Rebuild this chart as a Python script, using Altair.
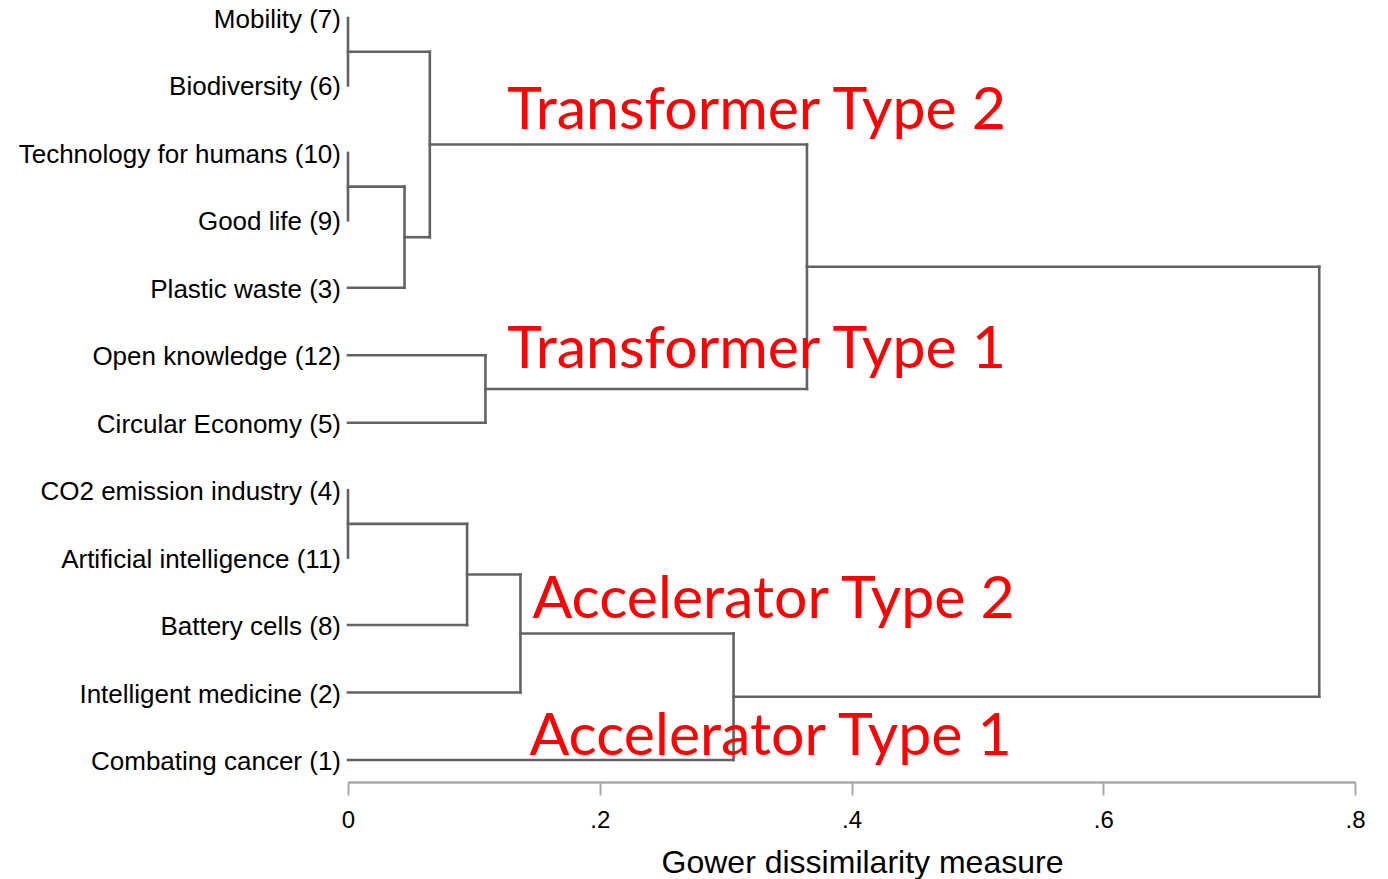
import json
import altair as alt
import pandas as pd

# ---- data ----
LEAVES = [
    "Mobility (7)", "Biodiversity (6)", "Technology for humans (10)", "Good life (9)",
    "Plastic waste (3)", "Open knowledge (12)", "Circular Economy (5)",
    "CO2 emission industry (4)", "Artificial intelligence (11)", "Battery cells (8)",
    "Intelligent medicine (2)", "Combating cancer (1)",
]
# merges: (left node, right node, Gower dissimilarity); new nodes numbered from 12
MERGE_LEFT = [0, 2, 13, 12, 5, 15, 7, 18, 19, 20, 17]
MERGE_RIGHT = [1, 3, 4, 14, 6, 16, 8, 9, 10, 11, 21]
MERGE_HEIGHT = [0.0, 0.0, 0.0449, 0.0650, 0.1092, 0.3646, 0.0, 0.0946, 0.1370, 0.3063, 0.7716]

TICK_VALUES = [0, 0.2, 0.4, 0.6, 0.8]
TICK_LABELS = ["0", ".2", ".4", ".6", ".8"]

ANNOT_TEXT = ["Transformer Type 2", "Transformer Type 1", "Accelerator Type 2", "Accelerator Type 1"]
ANNOT_X = [0.1266, 0.1266, 0.1465, 0.1441]
ANNOT_Y = [1.646, 5.19, 8.896, 10.926]

# ---- build dendrogram segments ----
pos = {i: float(i) for i in range(len(LEAVES))}
hgt = {i: 0.0 for i in range(len(LEAVES))}
segs = []
node = len(LEAVES)
for a, b, h in zip(MERGE_LEFT, MERGE_RIGHT, MERGE_HEIGHT):
    for c in (a, b):
        if h > hgt[c]:
            segs.append({"x": hgt[c], "x2": h, "y": pos[c], "y2": pos[c]})
    segs.append({"x": h, "x2": h, "y": pos[a], "y2": pos[b]})
    pos[node] = (pos[a] + pos[b]) / 2
    hgt[node] = h
    node += 1
seg_df = pd.DataFrame(segs)
leaf_df = pd.DataFrame({"idx": list(range(len(LEAVES))), "name": LEAVES})
ann_df = pd.DataFrame({"x": ANNOT_X, "y": ANNOT_Y, "text": ANNOT_TEXT})

PX_PER = 67.45
PLOT_H = 770
d0 = -6 / PX_PER
d1 = d0 + PLOT_H / PX_PER

xscale = alt.Scale(domain=[0, 0.8], nice=False, zero=False)
yscale = alt.Scale(domain=[d0, d1], reverse=True, nice=False, zero=False)

label_expr = json.dumps(TICK_LABELS) + "[round(datum.value*5)]"

lines = alt.Chart(seg_df).mark_rule(color="#636363", strokeWidth=2.6, strokeCap="square").encode(
    x=alt.X("x:Q", scale=xscale, axis=alt.Axis(
        values=TICK_VALUES, labelExpr=label_expr, grid=False, labelFlush=False,
        domainColor="#a8a8a8", domainWidth=2.6, tickColor="#a8a8a8", tickWidth=2, tickSize=13,
        labelFont="Liberation Sans", labelFontSize=24, labelColor="black", labelPadding=13,
        title="Gower dissimilarity measure", titleFont="Liberation Sans", titleFontSize=32,
        titleFontWeight="normal", titleColor="black", titleX=514, titleY=90,
        titleAlign="center", titleBaseline="alphabetic")),
    x2="x2:Q",
    y=alt.Y("y:Q", scale=yscale, axis=None),
    y2="y2:Q",
)

leaf_text = alt.Chart(leaf_df).mark_text(
    align="right", baseline="alphabetic", dy=10, font="Liberation Sans", fontSize=26, color="black"
).encode(
    x=alt.value(-7),
    y=alt.Y("idx:Q", scale=yscale),
    text="name:N",
)

ann = alt.Chart(ann_df).mark_text(
    align="left", baseline="alphabetic", font="Lato", fontSize=59, color="#ff0000"
).encode(
    x=alt.X("x:Q", scale=xscale),
    y=alt.Y("y:Q", scale=yscale),
    text="text:N",
)

chart = alt.layer(lines, leaf_text, ann).properties(
    width=1007, height=PLOT_H,
    autosize=alt.AutoSizeParams(type="none"),
    padding={"left": 340, "top": 4, "right": 20, "bottom": 97},
).configure_view(stroke=None)

chart.save("out.html", embed_options={"renderer": "svg", "actions": False})
